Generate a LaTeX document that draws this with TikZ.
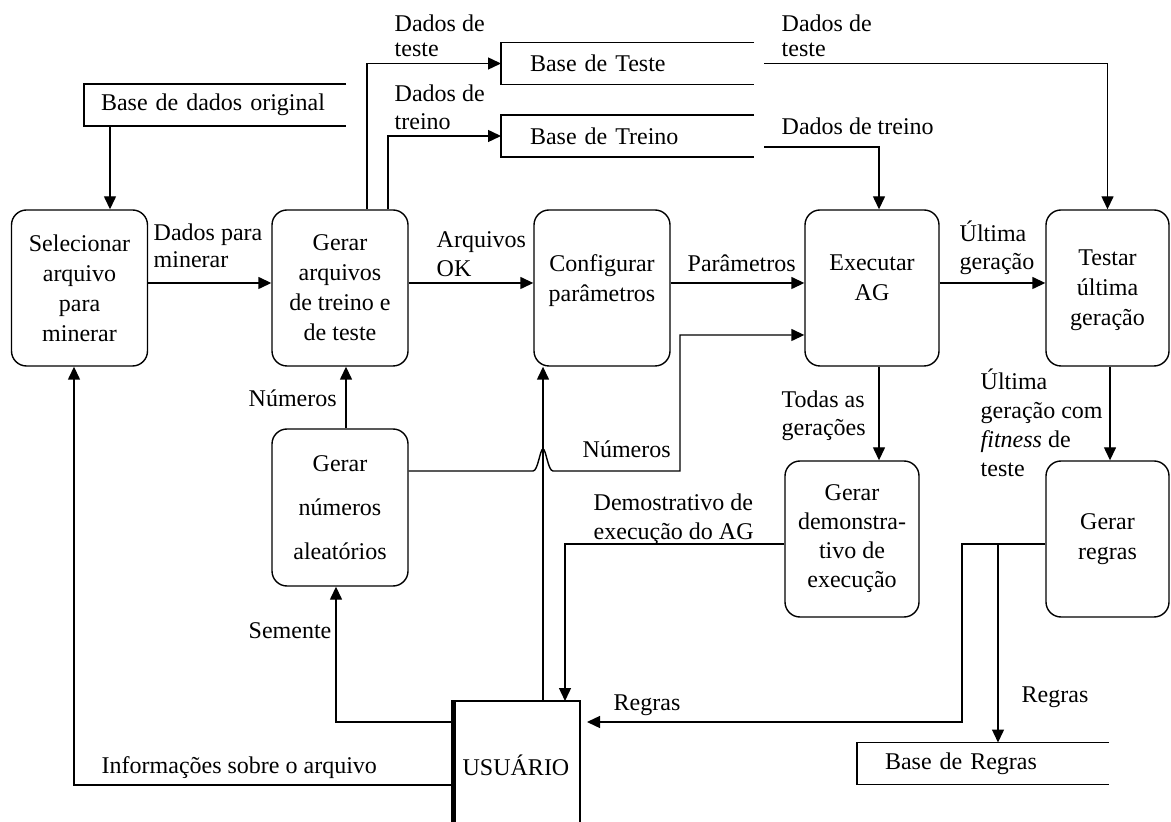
\documentclass[tikz,border=0pt]{standalone}
\usepackage{fontspec}
\setmainfont{Liberation Serif}
\usetikzlibrary{arrows.meta,calc}
\begin{document}
\begin{tikzpicture}[x=0.5pt,y=-0.5pt,
  line width=0.7pt,
  every node/.style={font=\fontsize{12}{15}\selectfont},
  proc/.style={draw, rounded corners=7.5pt, align=center, inner sep=0pt,
               minimum width=68pt, minimum height=78pt},
  store/.style={inner ysep=0pt, outer sep=0pt, align=left, minimum height=21pt},
  flow/.style={-{Triangle[length=6.5pt,width=6pt]}},
  lbl/.style={anchor=base west, inner sep=0pt, align=left,
              font=\fontsize{12}{14.5}\selectfont},
]
\useasboundingbox (0,0) rectangle (1171,822);
\clip (0,0) rectangle (1171,822);

% processes
\node[proc] (sel)  at (79.5,288) {Selecionar\\arquivo\\para\\minerar};
\node[proc] (garq) at (340,288) {Gerar\\arquivos\\de treino e\\de teste};
\node[proc, text depth=10pt] (conf) at (602,288) {Configurar\\parâmetros};
\node[proc, minimum width=67pt, text depth=10pt] (exe) at (872,288) {Executar\\AG};
\node[proc, minimum width=61.5pt, text depth=-5.4pt] (test) at (1107.5,288) {Testar\\última\\geração};
\node[proc, minimum height=78.5pt, font=\fontsize{12}{22}\selectfont] (gnum) at (340,507.5) {Gerar\\números\\aleatórios};
\node[proc, minimum width=67pt, font=\fontsize{12}{14.5}\selectfont] (gdem) at (852,539) {Gerar\\demonstra-\\tivo de\\execução};
\node[proc, minimum width=61.5pt] (greg) at (1107.5,539) {Gerar\\regras};

% data stores (open on the right)
\node[store, minimum width=131pt, text width=114pt, inner xsep=8.5pt] (bdo) at (215,105) {Base de dados original};
\node[store, minimum width=126.5pt, text width=97.5pt, inner xsep=14.5pt] (bte) at (627.5,63.5) {Base de Teste};
\node[store, minimum width=126.5pt, text width=97.5pt, inner xsep=14.5pt] (btr) at (627.5,136) {Base de Treino};
\node[store, minimum width=126pt, text width=98pt, inner xsep=14pt] (brg) at (983,763.5) {Base de Regras};
\foreach \s in {bdo,bte,btr,brg}
  \draw (\s.north east) -- (\s.north west) -- (\s.south west) -- (\s.south east);

% external entity
\node[minimum width=64pt, minimum height=64pt, inner sep=0pt, outer sep=0pt] (usr) at (516,765) {USUÁRIO};
\draw (usr.south west) |- (usr.north east) -- (usr.south east);
\fill ([xshift=-0.2pt]usr.south west) rectangle ([xshift=2pt]usr.north west);

% routing columns and rows
\coordinate (xA) at (110,0);
\coordinate (xB) at (367,0);
\coordinate (xC) at (388,0);
\coordinate (xE) at (879,0);
\coordinate (xF) at (346,0);
\coordinate (xG) at (543,0);
\coordinate (xH) at (336,0);
\coordinate (xI) at (74,0);
\coordinate (xJ) at (565,0);
\coordinate (xK) at (1110,0);
\coordinate (xL) at (962,0);
\coordinate (xM) at (998,0);
\coordinate (xN) at (680,0);
\coordinate (yM) at (0,283);
\coordinate (yR) at (0,147);
\coordinate (yN) at (0,471);
\coordinate (yE) at (0,335);
\coordinate (yS) at (0,722);
\coordinate (yI) at (0,785);
\coordinate (yD) at (0,544);
\coordinate (xing) at (xG |- yN);

% flows
\draw[flow] (bdo.south -| xA) -- (sel.north -| xA);
\draw[flow] (sel.east |- yM) -- (garq.west |- yM);
\draw[flow] (garq.east |- yM) -- (conf.west |- yM);
\draw[flow] (conf.east |- yM) -- (exe.west |- yM);
\draw[flow] (exe.east |- yM) -- (test.west |- yM);
\draw[flow] (garq.north -| xB) |- (bte.west);
\draw[flow] (garq.north -| xC) |- (btr.west);
\draw[flow] ([xshift=5pt]bte.east) -| (test.north);
\draw[flow] ([xshift=5pt]btr.east |- yR) -| (exe.north -| xE);
\draw[flow] (exe.south -| xE) -- (gdem.north -| xE);
\draw[flow] (test.south -| xK) -- (greg.north -| xK);
\draw[flow] (gnum.north -| xF) -- (garq.south -| xF);
\draw[flow] (usr.north -| xG) -- (conf.south -| xG);
\draw[flow] (usr.west |- yS) -| (gnum.south -| xH);
\draw[flow] (usr.west |- yI) -| (sel.south -| xI);
\draw[flow] (gdem.west |- yD) -| (usr.north -| xJ);
\draw[flow] (greg.west |- yD) -| (xL |- yS) -- ([xshift=3.5pt]usr.east |- yS);
\draw[flow] (xM |- yD) -- (brg.north -| xM);
\draw[flow] (gnum.east |- yN) -- ([xshift=-5pt]xing)
  .. controls ([xshift=-2.5pt]xing) and ([xshift=-1.5pt,yshift=11pt]xing) .. ([yshift=11pt]xing)
  .. controls ([xshift=1.5pt,yshift=11pt]xing) and ([xshift=2.5pt]xing) .. ([xshift=5pt]xing)
  -- (xN |- yN) |- (exe.west |- yE);

% flow labels (anchored at the baseline of their last line)
\node[lbl, font=\fontsize{12}{12.5}\selectfont] (l1) at (394,57) {Dados de\\teste};
\node[lbl, font=\fontsize{12}{14}\selectfont] (l2) at (394,130) {Dados de\\treino};
\node[lbl, font=\fontsize{12}{12.5}\selectfont] (l3) at (781,57) {Dados de\\teste};
\node[lbl] (l4) at (781,135) {Dados de treino};
\node[lbl, font=\fontsize{12}{13.5}\selectfont] (l5) at (153,268) {Dados para\\minerar};
\node[lbl, font=\fontsize{12}{14.5}\selectfont] (l6) at (436,277) {Arquivos\\OK};
\node[lbl] (l7) at (687,272) {Parâmetros};
\node[lbl, font=\fontsize{12}{14}\selectfont] (l8) at (959,270) {Última\\geração};
\node[lbl] (l9) at (248,407) {Números};
\node[lbl] (l10) at (582,458) {Números};
\node[lbl, font=\fontsize{12}{14}\selectfont] (l11) at (781,436) {Todas as\\gerações};
\node[lbl] (l12) at (980,477) {Última\\geração com\\\textit{fitness} de\\teste};
\node[lbl, font=\fontsize{12}{14}\selectfont] (l13) at (593,539) {Demostrativo de\\execução do AG};
\node[lbl] (l14) at (248,638) {Semente};
\node[lbl] (l15) at (613,710) {Regras};
\node[lbl] (l16) at (1021,702) {Regras};
\node[lbl] (l17) at (101,773) {Informações sobre o arquivo};
\end{tikzpicture}
\end{document}
